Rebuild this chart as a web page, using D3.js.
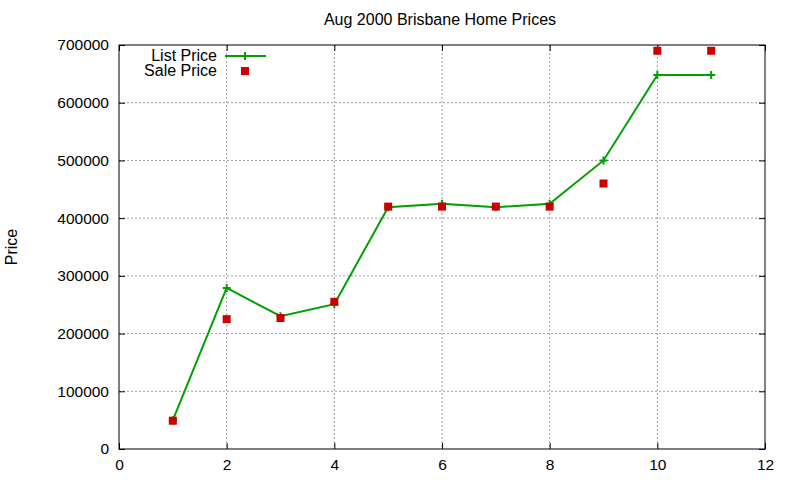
<!DOCTYPE html>
<html><head><meta charset="utf-8">
<script src="https://cdn.jsdelivr.net/npm/d3@7"></script>
<style>body{margin:0;background:#fff}text{font-family:"Liberation Sans",Arial,sans-serif;font-size:16px}</style>
</head><body><svg id="c" width="800" height="480"></svg>
<script>
const xs=[1,2,3,4,5,6,7,8,9,10,11];
const listPrice=[50000,279000,230000,251000,419000,425000,419000,425000,500000,648000,648000];
const salePrice=[49000,225000,227000,255000,420000,420000,420000,420000,460000,690000,690000];
const xTicks=[0,2,4,6,8,10,12];
const yTicks=[0,100000,200000,300000,400000,500000,600000,700000];
const svg=d3.select("#c");
const L=119,R=765,T=45,B=449;
const x=d3.scaleLinear().domain([0,12]).range([L,R]);
const y=d3.scaleLinear().domain([0,700000]).range([B,T]);
const g=svg.append("g");
xTicks.slice(1,-1).forEach(t=>g.append("line").attr("x1",x(t)).attr("x2",x(t)).attr("y1",T).attr("y2",B).attr("stroke","#a0a0a0").attr("stroke-dasharray","2,2"));
yTicks.slice(1,-1).forEach(t=>g.append("line").attr("x1",L).attr("x2",R).attr("y1",y(t)).attr("y2",y(t)).attr("stroke","#a0a0a0").attr("stroke-dasharray","2,2"));
const ax=(sel)=>sel.call(s=>s.select(".domain").remove()).selectAll("text").attr("fill","#000").style("font-size","15.5px").style("font-family","Liberation Sans, Arial, sans-serif");
svg.append("g").attr("transform",`translate(0,${B})`).call(d3.axisBottom(x).tickValues(xTicks).tickSize(-6).tickPadding(10)).call(ax);
svg.append("g").attr("transform",`translate(0,${T})`).call(d3.axisTop(x).tickValues(xTicks).tickSize(-6).tickFormat("")).call(ax);
svg.append("g").attr("transform",`translate(${L},0)`).call(d3.axisLeft(y).tickValues(yTicks).tickSize(-6).tickPadding(10).tickFormat(d3.format("d"))).call(ax);
svg.append("g").attr("transform",`translate(${R},0)`).call(d3.axisRight(y).tickValues(yTicks).tickSize(-6).tickFormat("")).call(ax);
svg.append("rect").attr("x",L).attr("y",T).attr("width",R-L).attr("height",B-T).attr("fill","none").attr("stroke","#000");
const pts=xs.map((d,i)=>[x(d),y(listPrice[i])]);
svg.append("path").attr("d",d3.line()(pts)).attr("fill","none").attr("stroke","#00a000").attr("stroke-width",2);
const plus=(px,py)=>svg.append("path").attr("d",`M${px-4},${py}H${px+4}M${px},${py-4}V${py+4}`).attr("stroke","#00a000").attr("stroke-width",2);
pts.forEach(p=>plus(p[0],p[1]));
xs.forEach((d,i)=>svg.append("rect").attr("x",x(d)-4).attr("y",y(salePrice[i])-4).attr("width",8).attr("height",8).attr("fill","#cc0000"));
svg.append("text").attr("x",217).attr("y",61).attr("text-anchor","end").text("List Price");
svg.append("line").attr("x1",225).attr("x2",266).attr("y1",56).attr("y2",56).attr("stroke","#00a000").attr("stroke-width",2);
plus(245,56);
svg.append("text").attr("x",217).attr("y",76).attr("text-anchor","end").text("Sale Price");
svg.append("rect").attr("x",241).attr("y",67).attr("width",8).attr("height",8).attr("fill","#cc0000");
svg.append("text").attr("x",440).attr("y",25).attr("text-anchor","middle").text("Aug 2000 Brisbane Home Prices");
svg.append("text").attr("transform","translate(17,247) rotate(-90)").attr("text-anchor","middle").text("Price");
</script></body></html>
